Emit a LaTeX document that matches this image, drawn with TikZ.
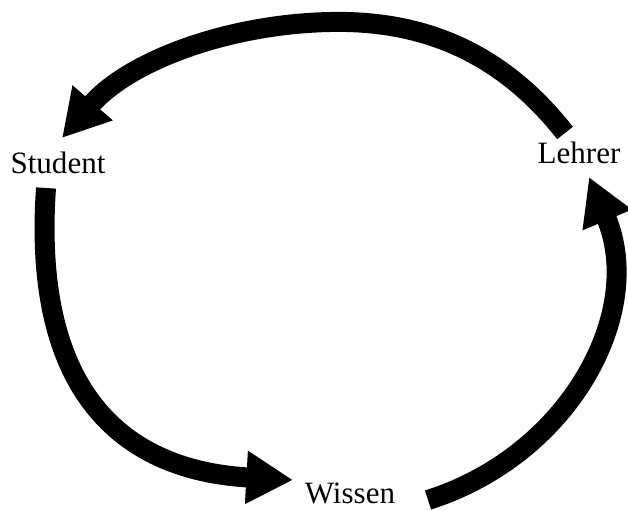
\documentclass[tikz,border=0pt]{standalone}
\usepackage{fontspec}
\newfontfamily\labelfont{Liberation Serif}
\usetikzlibrary{arrows.meta}

\begin{document}
\begin{tikzpicture}
    [x=0.03cm,y=-0.03cm,
     every node/.style={font=\labelfont\fontsize{26.5}{30}\selectfont,inner sep=0pt},
     bigarrow/.style={line width=0.6cm,-{Triangle[length=1.4cm 0,width=1.5cm 0]}}]
      \useasboundingbox (0,0) rectangle (628,509);

      \node (student)[anchor=base] at (58,173)  {Student};
      \node (lehrer)[anchor=base]  at (579,163) {Lehrer};
      \node (wissen)[anchor=base]  at (350,503) {Wissen};

      \coordinate (lehrerout) at (565,133);
      \coordinate (studentin) at (62,138);
      \coordinate (studentout) at (46,188);
      \coordinate (wissenin) at (293,480);
      \coordinate (wissenout) at (428,500);
      \coordinate (lehrerin) at (589,177);

      \draw[bigarrow] (lehrerout) .. controls (500,50) and (420,20) .. (330,22)
                                  .. controls (230,24) and (130,60) .. (studentin);
      \draw[bigarrow] (studentout) .. controls (30,420) and (150,472) .. (wissenin);
      \draw[bigarrow] (wissenout) .. controls (570,455) and (646,312) .. (lehrerin);
\end{tikzpicture}
\end{document}
